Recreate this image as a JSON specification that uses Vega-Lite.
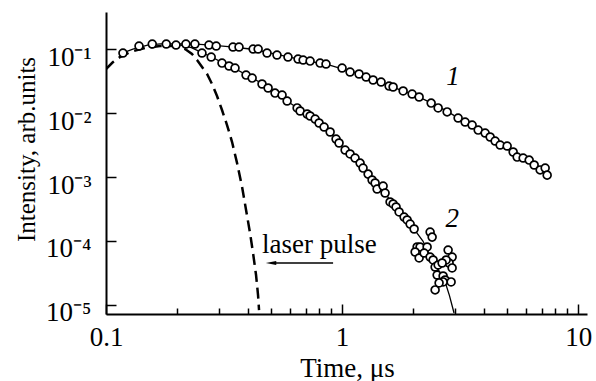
{
  "$schema": "https://vega.github.io/schema/vega-lite/v6.json",
  "width": 481,
  "height": 302,
  "autosize": {"type": "none"},
  "padding": {"left": 106, "top": 12, "right": 9, "bottom": 67},
  "background": "white",
  "config": {"view": {"stroke": null}, "font": "Liberation Serif"},
  "datasets": {
    "pts": [
      {"x": 0.118, "y": 0.0866}, {"x": 0.138, "y": 0.1114}, {"x": 0.157, "y": 0.1197}, {"x": 0.180, "y": 0.1197}, {"x": 0.198, "y": 0.1155}, {"x": 0.218, "y": 0.1197}, {"x": 0.238, "y": 0.1197}, {"x": 0.273, "y": 0.1155}, {"x": 0.293, "y": 0.1114}, {"x": 0.345, "y": 0.1075}, {"x": 0.366, "y": 0.1075}, {"x": 0.420, "y": 0.100}, {"x": 0.441, "y": 0.100}, {"x": 0.481, "y": 0.0866}, {"x": 0.530, "y": 0.0806}, {"x": 0.590, "y": 0.0750}, {"x": 0.651, "y": 0.0698}, {"x": 0.684, "y": 0.0673}, {"x": 0.732, "y": 0.0649}, {"x": 0.807, "y": 0.0604}, {"x": 0.855, "y": 0.0583}, {"x": 1.0, "y": 0.0505}, {"x": 1.081, "y": 0.0437}, {"x": 1.180, "y": 0.0407}, {"x": 1.264, "y": 0.0365}, {"x": 1.353, "y": 0.0328}, {"x": 1.463, "y": 0.0305}, {"x": 1.582, "y": 0.0264}, {"x": 1.645, "y": 0.0255}, {"x": 1.814, "y": 0.0221}, {"x": 1.980, "y": 0.0198}, {"x": 2.120, "y": 0.0178}, {"x": 2.384, "y": 0.0143}, {"x": 2.552, "y": 0.0120}, {"x": 2.786, "y": 0.0104}, {"x": 3.101, "y": 0.00835}, {"x": 3.320, "y": 0.00723}, {"x": 3.555, "y": 0.00649}, {"x": 3.771, "y": 0.00542}, {"x": 4.036, "y": 0.00487}, {"x": 4.238, "y": 0.00422}, {"x": 4.449, "y": 0.00365}, {"x": 4.672, "y": 0.00316}, {"x": 5.003, "y": 0.00305}, {"x": 5.304, "y": 0.00246}, {"x": 5.515, "y": 0.00205}, {"x": 5.847, "y": 0.00198}, {"x": 6.201, "y": 0.00184}, {"x": 6.511, "y": 0.00154}, {"x": 6.902, "y": 0.00129}, {"x": 7.248, "y": 0.00138}, {"x": 7.390, "y": 0.00107},
      {"x": 0.255, "y": 0.0866}, {"x": 0.279, "y": 0.0750}, {"x": 0.310, "y": 0.0604}, {"x": 0.332, "y": 0.0543}, {"x": 0.352, "y": 0.0505}, {"x": 0.392, "y": 0.0392}, {"x": 0.416, "y": 0.0352}, {"x": 0.458, "y": 0.0284}, {"x": 0.486, "y": 0.0246}, {"x": 0.520, "y": 0.0205}, {"x": 0.557, "y": 0.0191}, {"x": 0.585, "y": 0.0154}, {"x": 0.645, "y": 0.0120}, {"x": 0.664, "y": 0.01075}, {"x": 0.711, "y": 0.00965}, {"x": 0.732, "y": 0.00898}, {"x": 0.769, "y": 0.00806}, {"x": 0.799, "y": 0.00698}, {"x": 0.839, "y": 0.00604}, {"x": 0.890, "y": 0.00505}, {"x": 0.943, "y": 0.00392}, {"x": 0.971, "y": 0.00340}, {"x": 1.030, "y": 0.00264}, {"x": 1.081, "y": 0.00229}, {"x": 1.135, "y": 0.00198}, {"x": 1.192, "y": 0.00165}, {"x": 1.227, "y": 0.00138}, {"x": 1.289, "y": 0.00111}, {"x": 1.340, "y": 0.000898}, {"x": 1.380, "y": 0.000806}, {"x": 1.407, "y": 0.000649}, {"x": 1.492, "y": 0.000723}, {"x": 1.521, "y": 0.000562}, {"x": 1.597, "y": 0.000407}, {"x": 1.645, "y": 0.000379}, {"x": 1.693, "y": 0.000340}, {"x": 1.744, "y": 0.000284}, {"x": 1.831, "y": 0.000237}, {"x": 1.886, "y": 0.000213}, {"x": 1.942, "y": 0.000184}, {"x": 2.019, "y": 0.000154},
      {"x": 2.360, "y": 0.000138}, {"x": 2.407, "y": 0.000115}, {"x": 2.079, "y": 0.0000806}, {"x": 2.140, "y": 0.0000806}, {"x": 2.292, "y": 0.0000806}, {"x": 2.039, "y": 0.0000673}, {"x": 2.120, "y": 0.0000543}, {"x": 2.226, "y": 0.0000649}, {"x": 2.360, "y": 0.0000562}, {"x": 2.430, "y": 0.0000505}, {"x": 2.478, "y": 0.0000392}, {"x": 2.552, "y": 0.0000422}, {"x": 2.527, "y": 0.0000294}, {"x": 2.679, "y": 0.0000284}, {"x": 2.732, "y": 0.0000246}, {"x": 2.813, "y": 0.0000723}, {"x": 2.925, "y": 0.0000562}, {"x": 2.840, "y": 0.0000453}, {"x": 2.925, "y": 0.0000379}, {"x": 2.896, "y": 0.0000229}, {"x": 2.679, "y": 0.0000229}, {"x": 2.576, "y": 0.0000221}, {"x": 2.478, "y": 0.0000172}, {"x": 2.759, "y": 0.0000505}, {"x": 2.653, "y": 0.0000453}
    ],
    "fit": [
      {"s": 1, "x": 0.118, "y": 0.087}, {"s": 1, "x": 0.13, "y": 0.1}, {"s": 1, "x": 0.15, "y": 0.115}, {"s": 1, "x": 0.17, "y": 0.12}, {"s": 1, "x": 0.2, "y": 0.12}, {"s": 1, "x": 0.24, "y": 0.119}, {"s": 1, "x": 0.28, "y": 0.115}, {"s": 1, "x": 0.33, "y": 0.109}, {"s": 1, "x": 0.4, "y": 0.101}, {"s": 1, "x": 0.45, "y": 0.094}, {"s": 1, "x": 0.5, "y": 0.086}, {"s": 1, "x": 0.6, "y": 0.075}, {"s": 1, "x": 0.7, "y": 0.066}, {"s": 1, "x": 0.8, "y": 0.06}, {"s": 1, "x": 0.9, "y": 0.055}, {"s": 1, "x": 1.0, "y": 0.049}, {"s": 1, "x": 1.2, "y": 0.04}, {"s": 1, "x": 1.4, "y": 0.033}, {"s": 1, "x": 1.6, "y": 0.0265}, {"s": 1, "x": 1.8, "y": 0.0222}, {"s": 1, "x": 2.0, "y": 0.0195}, {"s": 1, "x": 2.4, "y": 0.0143}, {"s": 1, "x": 2.8, "y": 0.0105}, {"s": 1, "x": 3.2, "y": 0.0078}, {"s": 1, "x": 3.6, "y": 0.0062}, {"s": 1, "x": 4.0, "y": 0.0049}, {"s": 1, "x": 4.5, "y": 0.0037}, {"s": 1, "x": 5.0, "y": 0.003}, {"s": 1, "x": 5.5, "y": 0.0022}, {"s": 1, "x": 6.0, "y": 0.00185}, {"s": 1, "x": 6.5, "y": 0.0016}, {"s": 1, "x": 7.0, "y": 0.0013}, {"s": 1, "x": 7.4, "y": 0.00108},
      {"s": 2, "x": 0.2, "y": 0.118}, {"s": 2, "x": 0.23, "y": 0.105}, {"s": 2, "x": 0.255, "y": 0.088}, {"s": 2, "x": 0.28, "y": 0.075}, {"s": 2, "x": 0.31, "y": 0.062}, {"s": 2, "x": 0.35, "y": 0.05}, {"s": 2, "x": 0.4, "y": 0.038}, {"s": 2, "x": 0.45, "y": 0.03}, {"s": 2, "x": 0.5, "y": 0.0235}, {"s": 2, "x": 0.55, "y": 0.0185}, {"s": 2, "x": 0.6, "y": 0.0145}, {"s": 2, "x": 0.65, "y": 0.0118}, {"s": 2, "x": 0.7, "y": 0.0098}, {"s": 2, "x": 0.75, "y": 0.0085}, {"s": 2, "x": 0.8, "y": 0.0069}, {"s": 2, "x": 0.85, "y": 0.0058}, {"s": 2, "x": 0.9, "y": 0.0048}, {"s": 2, "x": 0.95, "y": 0.0037}, {"s": 2, "x": 1.0, "y": 0.0029}, {"s": 2, "x": 1.05, "y": 0.0024}, {"s": 2, "x": 1.1, "y": 0.0021}, {"s": 2, "x": 1.2, "y": 0.0016}, {"s": 2, "x": 1.3, "y": 0.00108}, {"s": 2, "x": 1.4, "y": 0.00075}, {"s": 2, "x": 1.5, "y": 0.00063}, {"s": 2, "x": 1.6, "y": 0.00042}, {"s": 2, "x": 1.7, "y": 0.00034}, {"s": 2, "x": 1.8, "y": 0.00026}, {"s": 2, "x": 1.9, "y": 0.0002}, {"s": 2, "x": 2.0, "y": 0.00016}, {"s": 2, "x": 2.2, "y": 0.0001}, {"s": 2, "x": 2.4, "y": 0.000052}, {"s": 2, "x": 2.6, "y": 0.000032}, {"s": 2, "x": 2.73, "y": 0.000023}, {"s": 2, "x": 2.85, "y": 0.000014}, {"s": 2, "x": 2.98, "y": 0.0000075}
    ],
    "pulse": [
      {"x": 0.1, "y": 0.0487}, {"x": 0.1071, "y": 0.0626}, {"x": 0.1146, "y": 0.075}, {"x": 0.1264, "y": 0.0898}, {"x": 0.1463, "y": 0.1037}, {"x": 0.1694, "y": 0.1114}, {"x": 0.1961, "y": 0.1114}, {"x": 0.2162, "y": 0.1}, {"x": 0.2314, "y": 0.0835}, {"x": 0.2430, "y": 0.0673}, {"x": 0.2552, "y": 0.0523}, {"x": 0.2679, "y": 0.0407}, {"x": 0.2813, "y": 0.0284}, {"x": 0.2953, "y": 0.01845}, {"x": 0.310, "y": 0.01114}, {"x": 0.3256, "y": 0.00649}, {"x": 0.3420, "y": 0.00352}, {"x": 0.3591, "y": 0.00165}, {"x": 0.3771, "y": 0.000698}, {"x": 0.3920, "y": 0.000305}, {"x": 0.4075, "y": 0.000133}, {"x": 0.4196, "y": 0.0000649}, {"x": 0.4321, "y": 0.0000294}, {"x": 0.4406, "y": 0.0000143}, {"x": 0.4449, "y": 0.0000083}
    ],
    "num": [
      {"x": 2.95, "y": 0.0274, "t": "1"},
      {"x": 2.925, "y": 0.000165, "t": "2"}
    ],
    "note": [
      {"x": 0.458, "y": 0.0000649, "t": "laser pulse"}
    ],
    "arrow": [
      {"x": 0.50, "x2": 0.916, "y": 0.0000453}
    ]
  },
  "encoding": {
    "x": {
      "field": "x", "type": "quantitative",
      "scale": {"type": "log", "domain": [0.1, 10.9], "nice": false},
      "axis": {
        "title": "Time, μs",
        "values": [0.1, 0.2, 0.3, 0.4, 0.5, 0.6, 0.7, 0.8, 0.9, 1, 2, 3, 4, 5, 6, 7, 8, 9, 10],
        "labelExpr": "datum.value == 0.1 ? '0.1' : datum.value == 1 ? '1' : datum.value == 10 ? '10' : ''",
        "labelOverlap": false, "labelFlush": false,
        "labelFont": "Liberation Serif", "labelFontSize": 27, "labelColor": "black", "labelPadding": 20,
        "tickSize": {"condition": {"test": "datum.value == 0.1 || datum.value == 1 || datum.value == 10", "value": -10}, "value": -6},
        "tickWidth": 1.5, "tickColor": "black",
        "domainColor": "black", "domainWidth": 2, "grid": false,
        "titleFont": "Liberation Serif", "titleFontSize": 27, "titleFontWeight": "normal", "titleColor": "black",
        "titleX": 241, "titleY": 62, "titleBaseline": "alphabetic"
      }
    },
    "y": {
      "field": "y", "type": "quantitative",
      "scale": {"type": "log", "domain": [0.00000723, 0.379], "nice": false},
      "axis": {
        "title": "Intensity, arb.units",
        "values": [0.00001, 0.0001, 0.001, 0.01, 0.1],
        "labelExpr": "datum.value > 0.05 ? '10⁻¹' : datum.value > 0.005 ? '10⁻²' : datum.value > 0.0005 ? '10⁻³' : datum.value > 0.00005 ? '10⁻⁴' : '10⁻⁵'",
        "labelOverlap": false, "labelFlush": false,
        "labelFont": "Liberation Serif", "labelFontSize": 27, "labelColor": "black", "labelPadding": 25,
        "labelBaseline": "alphabetic", "labelOffset": 16,
        "tickSize": -10, "tickWidth": 1.5, "tickColor": "black",
        "domainColor": "black", "domainWidth": 2, "grid": false,
        "titleFont": "Liberation Serif", "titleFontSize": 25, "titleFontWeight": "normal", "titleColor": "black",
        "titleX": -72, "titleY": 137, "titleBaseline": "alphabetic", "titleAngle": -90
      }
    }
  },
  "layer": [
    {
      "data": {"name": "pulse"},
      "mark": {"type": "line", "color": "black", "strokeWidth": 2.5, "strokeDash": [11, 6], "clip": true},
      "encoding": {}
    },
    {
      "data": {"name": "fit"},
      "mark": {"type": "line", "color": "black", "strokeWidth": 1.3, "clip": true},
      "encoding": {"detail": {"field": "s", "type": "nominal"}}
    },
    {
      "data": {"name": "pts"},
      "mark": {"type": "point", "shape": "circle", "filled": false, "fill": "white", "fillOpacity": 1, "stroke": "black", "strokeWidth": 1.7, "size": 62, "opacity": 1}
    },
    {
      "data": {"name": "arrow"},
      "mark": {"type": "rule", "color": "black", "strokeWidth": 1.6},
      "encoding": {"x2": {"field": "x2"}}
    },
    {
      "data": {"name": "arrow"},
      "mark": {"type": "point", "shape": "M -1 0 L 1 -0.4 L 1 0.4 Z", "filled": true, "color": "black", "size": 110, "opacity": 1}
    },
    {
      "data": {"name": "note"},
      "mark": {"type": "text", "align": "left", "baseline": "alphabetic", "font": "Liberation Serif", "fontSize": 27, "color": "black"},
      "encoding": {"text": {"field": "t"}}
    },
    {
      "data": {"name": "num"},
      "mark": {"type": "text", "align": "center", "baseline": "alphabetic", "font": "Liberation Serif", "fontSize": 27, "fontStyle": "italic", "color": "black"},
      "encoding": {"text": {"field": "t"}}
    }
  ]
}
